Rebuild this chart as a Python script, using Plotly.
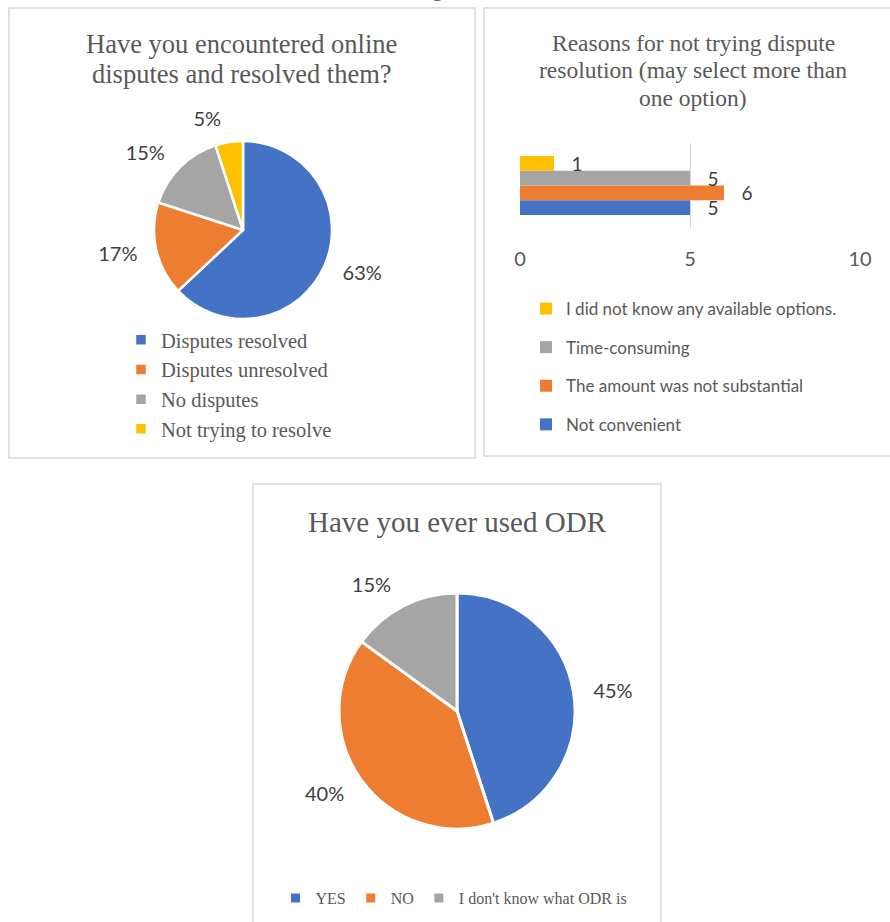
import plotly.graph_objects as go

W, H = 890, 922

# ---- data ----
pie1_labels = ["Disputes resolved", "Disputes unresolved", "No disputes", "Not trying to resolve"]
pie1_values = [63, 17, 15, 5]

bar_categories = ["Reasons"]
bar_series = ["Not convenient", "The amount was not substantial", "Time-consuming",
              "I did not know any available options."]
bar_values = [5, 6, 5, 1]
bar_ticks = [0, 5, 10]

pie3_labels = ["YES", "NO", "I don't know what ODR is"]
pie3_values = [45, 40, 15]

title1_lines = ["Have you encountered online", "disputes and resolved them?"]
title2_lines = ["Reasons for not trying dispute", "resolution (may select more than", "one option)"]
title3 = "Have you ever used ODR"

pie_colors = ["#4472C4", "#ED7D31", "#A5A5A5", "#FFC000"]
bar_colors = ["#4472C4", "#ED7D31", "#A5A5A5", "#FFC000"]

SERIF = "Liberation Serif, Times New Roman, serif"
SANS = "Lato, Carlito, Calibri, sans-serif"
NBSP = "\u00a0"


def px(x):
    return x / W


def py(y):
    return 1 - y / H


def dom(cx, cy, r):
    return dict(x=[px(cx - r), px(cx + r)], y=[py(cy + r), py(cy - r)])


fig = go.Figure()

# Pie 1 (slices)
c1x, c1y, r1 = 243, 230, 89
fig.add_trace(go.Pie(
    labels=pie1_labels, values=pie1_values, sort=False, direction="clockwise",
    rotation=0, marker=dict(colors=pie_colors, line=dict(color="white", width=2.5)),
    textinfo="none", domain=dom(c1x, c1y, r1),
    legend="legend", hoverinfo="label+percent",
))
# Pie 1 (percent labels, placed a little further out)
fig.add_trace(go.Pie(
    labels=pie1_labels, values=pie1_values, sort=False, direction="clockwise",
    rotation=0, marker=dict(colors=["rgba(0,0,0,0)"] * 4, line=dict(width=0)),
    textinfo="percent", textposition="outside", texttemplate="%{percent:.0%}",
    textfont=dict(family=SANS, size=20, color="#404040"),
    domain=dom(c1x, c1y, r1 + 13), showlegend=False, hoverinfo="skip",
))

# Bars
for i, (name, val, col) in enumerate(zip(bar_series, bar_values, bar_colors)):
    fig.add_trace(go.Bar(
        y=bar_categories, x=[val], name=name, orientation="h",
        marker=dict(color=col, line=dict(width=0)),
        text=[val], texttemplate=NBSP * 3 + "%{x}", textposition="outside",
        cliponaxis=False, constraintext="none",
        textfont=dict(family=SANS, size=19, color="#404040"),
        xaxis="x", yaxis="y", legend="legend2", legendgroup=name,
        legendrank=100 - i,
    ))

# Pie 3 (slices)
c3x, c3y, r3 = 457, 711, 118
fig.add_trace(go.Pie(
    labels=pie3_labels, values=pie3_values, sort=False, direction="clockwise",
    rotation=0, marker=dict(colors=pie_colors[:3], line=dict(color="white", width=3)),
    textinfo="none", domain=dom(c3x, c3y, r3), legend="legend3",
))
# Pie 3 (percent labels)
fig.add_trace(go.Pie(
    labels=pie3_labels, values=pie3_values, sort=False, direction="clockwise",
    rotation=0, marker=dict(colors=["rgba(0,0,0,0)"] * 3, line=dict(width=0)),
    textinfo="percent", textposition="outside", texttemplate="%{percent:.0%}",
    textfont=dict(family=SANS, size=20, color="#404040"),
    domain=dom(c3x, c3y, r3 + 14), showlegend=False, hoverinfo="skip",
))

# panel borders
border = dict(color="#D9D9D9", width=1.5)
shapes = [
    dict(type="rect", xref="paper", yref="paper", x0=px(9), x1=px(475), y0=py(458), y1=py(8), line=border),
    dict(type="rect", xref="paper", yref="paper", x0=px(484), x1=px(900), y0=py(456), y1=py(8), line=border),
    dict(type="rect", xref="paper", yref="paper", x0=px(253), x1=px(661), y0=py(935), y1=py(484), line=border),
]

annotations = []
for line, yy in zip(title1_lines, [44, 74]):
    annotations.append(dict(text=line, x=px(242), y=py(yy), xref="paper", yref="paper",
                            showarrow=False, xanchor="center", yanchor="middle",
                            font=dict(family=SERIF, size=26.5, color="#595959")))
for line, yy in zip(title2_lines, [43, 70, 98]):
    annotations.append(dict(text=line, x=px(693), y=py(yy), xref="paper", yref="paper",
                            showarrow=False, xanchor="center", yanchor="middle",
                            font=dict(family=SERIF, size=23.5, color="#595959")))
annotations.append(dict(text=title3, x=px(457), y=py(522), xref="paper", yref="paper",
                        showarrow=False, xanchor="center", yanchor="middle",
                        font=dict(family=SERIF, size=29, color="#595959")))
annotations.append(dict(text="g", x=px(437), y=py(-12), xref="paper", yref="paper",
                        showarrow=False, xanchor="center", yanchor="middle",
                        font=dict(family=SERIF, size=22, color="#2F5496")))

fig.update_layout(
    width=W, height=H, margin=dict(l=0, r=0, t=0, b=0, autoexpand=False),
    paper_bgcolor="white", plot_bgcolor="white",
    barmode="group", bargap=0.306, bargroupgap=0,
    xaxis=dict(domain=[px(520), px(860)], range=[0, 10], tickvals=bar_ticks,
               showgrid=True, gridcolor="#D9D9D9", gridwidth=1.3, zeroline=False,
               showline=False, ticks="", ticklabelstandoff=17, automargin=False,
               tickfont=dict(family=SANS, size=20, color="#595959"), fixedrange=True),
    yaxis=dict(domain=[py(228), py(143)], showticklabels=False, showgrid=False,
               zeroline=False, showline=False, range=[-0.5, 0.5], fixedrange=True,
               automargin=False),
    shapes=shapes, annotations=annotations,
    legend=dict(x=px(121), y=py(320), xanchor="left", yanchor="top", orientation="v",
                font=dict(family=SERIF, size=20.5, color="#595959"), bgcolor="rgba(0,0,0,0)"),
    legend2=dict(x=px(526), y=py(291), xanchor="left", yanchor="top", orientation="v",
                 traceorder="grouped", tracegroupgap=13.5,
                 font=dict(family=SANS, size=17, color="#595959"), bgcolor="rgba(0,0,0,0)"),
    legend3=dict(x=px(454), y=py(898), xanchor="center", yanchor="middle", orientation="h",
                 font=dict(family=SERIF, size=16, color="#595959"), bgcolor="rgba(0,0,0,0)"),
    showlegend=True,
)

fig.write_html("out.html", post_script="document.body.style.margin='0px';",
               config={"displayModeBar": False})
